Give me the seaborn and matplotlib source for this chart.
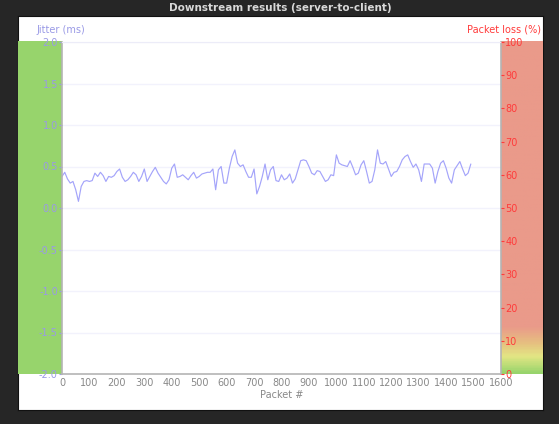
import numpy as np
import pandas as pd
import matplotlib
matplotlib.use("Agg")
import matplotlib.pyplot as plt
import seaborn as sns
from matplotlib.colors import LinearSegmentedColormap

title = "Downstream results (server-to-client)"
jitter_ms = [
    0.38, 0.43, 0.35, 0.30, 0.32, 0.22, 0.08, 0.26, 0.32, 0.33,
    0.32, 0.33, 0.42, 0.38, 0.43, 0.39, 0.32, 0.38, 0.37, 0.39,
    0.44, 0.47, 0.37, 0.32, 0.34, 0.38, 0.43, 0.40, 0.32, 0.38,
    0.47, 0.32, 0.38, 0.44, 0.49, 0.42, 0.37, 0.32, 0.29, 0.34,
    0.48, 0.53, 0.37, 0.38, 0.40, 0.37, 0.34, 0.39, 0.43, 0.36,
    0.38, 0.41, 0.42, 0.43, 0.43, 0.47, 0.22, 0.46, 0.50, 0.30,
    0.30, 0.48, 0.62, 0.70, 0.54, 0.50, 0.52, 0.44, 0.37, 0.37,
    0.47, 0.17, 0.26, 0.38, 0.53, 0.34, 0.46, 0.50, 0.33, 0.32,
    0.40, 0.34, 0.36, 0.41, 0.30, 0.35, 0.46, 0.57, 0.58, 0.57,
    0.50, 0.42, 0.40, 0.45, 0.44, 0.38, 0.32, 0.34, 0.40, 0.39,
    0.64, 0.54, 0.52, 0.51, 0.50, 0.57, 0.49, 0.40, 0.42, 0.52,
    0.57, 0.44, 0.30, 0.32, 0.46, 0.70, 0.54, 0.53, 0.56, 0.47,
    0.38, 0.43, 0.44, 0.50, 0.58, 0.62, 0.64, 0.56, 0.49, 0.53,
    0.46, 0.32, 0.53, 0.53, 0.53, 0.48, 0.30, 0.44, 0.54, 0.57,
    0.48, 0.36, 0.30, 0.46, 0.51, 0.56, 0.47, 0.39, 0.42, 0.53,
]
packet_step = 10
x_ticks = list(range(0, 1700, 100))
left_ticks = [-2.0, -1.5, -1.0, -0.5, 0.0, 0.5, 1.0, 1.5, 2.0]
right_ticks = list(range(0, 110, 10))

df = pd.DataFrame({"packet": np.arange(len(jitter_ms)) * packet_step,
                   "jitter": jitter_ms})

sns.set_style("white")
plt.rcParams['font.family'] = ['DejaVu Sans']

W, H = 559, 424
fig = plt.figure(figsize=(W / 100, H / 100), dpi=100, facecolor="#262626")

def fx(px): return px / W
def fy(py): return 1 - py / H

# white panel (background axes)
pax = fig.add_axes([fx(18), fy(410), fx(543) - fx(18), fy(16) - fy(410)], zorder=-10)
pax.set_facecolor("white")
pax.set_xticks([]); pax.set_yticks([])
for s in pax.spines.values():
    s.set_color("#111111"); s.set_linewidth(0.8)

fig.text(fx(280), fy(8), title, ha="center", va="center", color="#d8d8d8",
         fontsize=7.5, fontweight="bold")

# left green band
gax = fig.add_axes([fx(18), fy(374), fx(62) - fx(18), fy(41) - fy(374)], zorder=-5)
gax.set_facecolor("#97d46c")
gax.set_xticks([]); gax.set_yticks([])
for s in gax.spines.values():
    s.set_visible(False)

# right band with gradient at bottom
rax = fig.add_axes([fx(501), fy(374), fx(543) - fx(501), fy(41) - fy(374)], zorder=-5)
cmap = LinearSegmentedColormap.from_list(
    "lossband",
    [(0.0, "#97d46c"), (0.05, "#e3e684"), (0.09, "#e6c080"), (0.14, "#ea9a8a"), (1.0, "#ea9a8a")])
grad = np.linspace(0, 1, 400).reshape(-1, 1)
rax.imshow(grad, aspect="auto", cmap=cmap, origin="lower", extent=[0, 1, 0, 1])
rax.set_xticks([]); rax.set_yticks([])
for s in rax.spines.values():
    s.set_visible(False)

ax = fig.add_axes([fx(62), fy(374), fx(501) - fx(62), fy(42) - fy(374)], zorder=1)
ax.set_facecolor("white")
sns.lineplot(data=df, x="packet", y="jitter", ax=ax, color="#a4a4fa", lw=0.85)
ax.set_xlim(0, 1600)
ax.set_ylim(-2, 2)
ax.set_xticks(x_ticks)
ax.set_yticks(left_ticks)
ax.set_yticklabels([f"{v:.1f}" for v in left_ticks])
ax.grid(axis="y", color="#f2f2fc", lw=1)
ax.tick_params(axis="y", colors="#9a9ae6", labelsize=7, length=2, pad=1, direction="out", left=True)
ax.tick_params(axis="x", colors="#aaaaaa", labelcolor="#888888", labelsize=7, length=0, pad=3)
ax.set_xlabel("Packet #", color="#888888", fontsize=7, labelpad=1)
ax.set_ylabel("")
for side in ["left", "bottom", "right"]:
    ax.spines[side].set_color("#b4b4b4")
    ax.spines[side].set_linewidth(1.2)
ax.spines["top"].set_color("#ececf8")

ax2 = ax.twinx()
ax2.set_ylim(0, 100)
ax2.set_yticks(right_ticks)
ax2.tick_params(axis="y", colors="#ff3b3b", labelsize=7, length=2, pad=1, direction="out")
for s in ax2.spines.values():
    s.set_visible(False)

fig.text(fx(36), fy(30), "Jitter (ms)", color="#9a9ae6", fontsize=7, ha="left", va="center")
fig.text(fx(541), fy(30), "Packet loss (%)", color="#ff3b3b", fontsize=7, ha="right", va="center")

fig.savefig("out.png", dpi=100, facecolor=fig.get_facecolor())
